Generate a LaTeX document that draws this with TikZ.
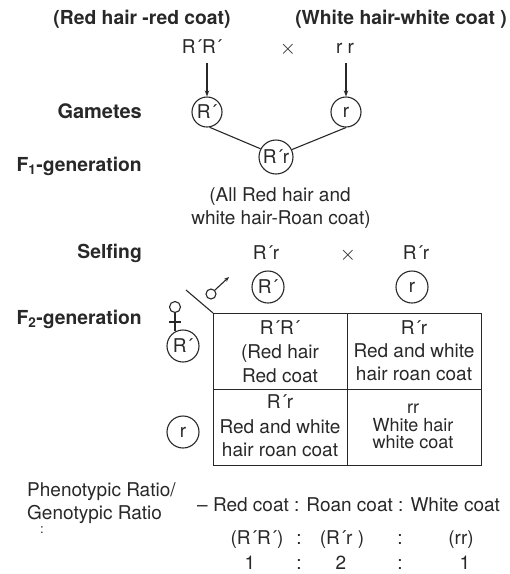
\documentclass[tikz,border=0pt]{standalone}
\usepackage{fontspec}
\setmainfont{TeX Gyre Heros}
\usetikzlibrary{arrows.meta}
\definecolor{ink}{RGB}{40,40,40}
\begin{document}
\begin{tikzpicture}[x=1pt,y=-1pt,
  txt/.style={font=\fontsize{19}{22}\selectfont, text=ink, inner sep=0pt, anchor=base},
  bold/.style={txt, font=\fontsize{19.3}{22}\selectfont\bfseries},
  small/.style={txt, font=\fontsize{18}{20}\selectfont},
  cross/.style={txt, font=\fontsize{21}{22}\selectfont},
  gam/.style={circle, draw=ink, line width=1.1pt, inner sep=0pt, text=ink, font=\fontsize{19}{22}\selectfont},
  ln/.style={draw=ink, line width=1.1pt},
  arr/.style={ln, -{Stealth[length=6pt,width=4.5pt]}}]
\useasboundingbox (0,0) rectangle (510,574);
% parents
\node[bold] (p1) at (142,24) {(Red hair -red coat)};
\node[bold] (p2) at (401,24) {(White hair-white coat )};
\node[txt] (g1) at (202,53) {R´R´};
\node[cross] (x1) at (288,54) {$\times$};
\node[txt] (g2) at (345,53) {r r};
% gametes
\node[bold, anchor=base east, font=\fontsize{20}{22}\selectfont\bfseries] (lgam) at (142,118) {Gametes};
\node[gam, minimum size=30pt] (gc1) at (207,112) {R´};
\node[gam, minimum size=30pt] (gc2) at (346,112) {r};
\draw[arr] ([yshift=-10pt]g1.south -| gc1.north) -- (gc1.north);
\draw[arr] ([yshift=-10pt]g2.south -| gc2.north) -- (gc2.north);
% F1
\node[bold, anchor=base east] (lf1) at (142,171) {F\textsubscript{1}-generation};
\node[gam, minimum size=34pt] (f1) at (276,157) {R´r};
\draw[ln] (gc1.-80) -- (f1.152);
\draw[ln] (gc2.-90) -- (f1.25);
\node[txt] (d1) at (280,201) {(All Red hair and};
\node[txt] (d2) at (281,224) {white hair-Roan coat)};
% selfing
\node[bold, anchor=base east] (lself) at (142,258) {Selfing};
\node[txt] (s1) at (266,259) {R´r};
\node[cross] (x2) at (348,260) {$\times$};
\node[txt] (s2) at (416,259) {R´r};
\node[gam, minimum size=32pt] (sc1) at (268,287) {R´};
\node[gam, minimum size=32pt] (sc2) at (412,287) {r};
% sex symbols
\node[circle, draw=ink, line width=1.1pt, minimum size=10pt, inner sep=0pt] (male) at (211,294) {};
\coordinate (maletip) at (229,277);
\draw[ln, -{Stealth[length=5pt,width=4pt]}] (male.45) -- (maletip);
\node[circle, draw=ink, line width=1.1pt, minimum size=11pt, inner sep=0pt] (fem) at (175,307) {};
\coordinate (femend) at (175,331);
\coordinate (fl) at (169,322);
\coordinate (fr) at (181,322);
\draw[ln] (fem.south) -- (femend);
\draw[ln] (fl) -- (fr);
% F2
\node[bold, anchor=base east] (lf2) at (142,324) {F\textsubscript{2}-generation};
\node[draw=ink, line width=1.3pt, minimum width=268pt, minimum height=152pt, anchor=north west, inner sep=0pt] (tab) at (213,313) {};
\draw[ln, line width=1.3pt] (tab.north) -- (tab.south);
\draw[ln, line width=1.3pt] (tab.west) -- (tab.east);
\coordinate (d0) at (186,290);
\draw[ln] (d0) -- (tab.north west);
\node[gam, minimum size=32pt] (rc1) at (183,346) {R´};
\node[gam, minimum size=32pt] (rc2) at (183,432) {r};
% cells
\node[txt] (a1) at (280,334) {R´R´};
\node[txt] (a2) at (280,358) {(Red hair};
\node[txt] (a3) at (280,382) {Red coat};
\node[txt] (b1) at (414,334) {R´r};
\node[txt] (b2) at (414,357) {Red and white};
\node[txt] (b3) at (414,380) {hair roan coat};
\node[txt] (c1) at (280,408) {R´r};
\node[txt] (c2) at (280,433) {Red and white};
\node[txt] (c3) at (280,456) {hair roan coat};
\node[small] (e1) at (413,413) {rr};
\node[small] (e2) at (413,431) {White hair};
\node[small] (e3) at (413,448) {white coat};
% ratios
\node[txt, anchor=base west] (r1) at (27,496) {Phenotypic Ratio/};
\node[txt, anchor=base west] (r2) at (27,519) {Genotypic Ratio};
\node[txt, font=\fontsize{13}{14}\selectfont] (r3) at (42,533) {:};
\node[txt, anchor=base west] (r4) at (197,511) {– Red coat : Roan coat : White coat};
\node[txt] (q1) at (257,544) {(R´R´)};
\node[txt] (q2) at (299,544) {:};
\node[txt] (q3) at (342,544) {(R´r )};
\node[txt] (q4) at (400,544) {:};
\node[txt] (q5) at (461,544) {(rr)};
\node[txt] (n1) at (250,569) {1};
\node[txt] (n2) at (299,569) {:};
\node[txt] (n3) at (341,569) {2};
\node[txt] (n4) at (400,569) {:};
\node[txt] (n5) at (465,569) {1};
\end{tikzpicture}
\end{document}
